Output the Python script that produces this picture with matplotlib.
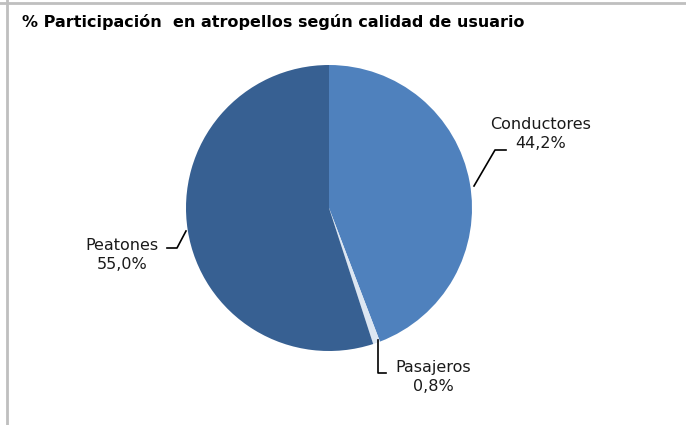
import matplotlib
matplotlib.use("Agg")
import matplotlib.pyplot as plt
from matplotlib.lines import Line2D
import numpy as np

categories = ["Conductores", "Pasajeros", "Peatones"]
values = [44.2, 0.8, 55.0]
value_labels = ["44,2%", "0,8%", "55,0%"]
colors = ["#4F81BD", "#DCE6F2", "#376092"]
title = "% Participación  en atropellos según calidad de usuario"

W, H = 686, 425
fig = plt.figure(figsize=(W / 100, H / 100), dpi=100)

def px(x, y):
    return x / W, 1 - y / H

# border (top and left)
fig.add_artist(Line2D([0, 1], [1 - 2.5 / H, 1 - 2.5 / H], color="#BFBFBF", lw=2, transform=fig.transFigure))
fig.add_artist(Line2D([6.5 / W, 6.5 / W], [0, 1], color="#BFBFBF", lw=2, transform=fig.transFigure))

cx, cy, r = 329, 208, 143
ax = fig.add_axes([(cx - r) / W, 1 - (cy + r) / H, 2 * r / W, 2 * r / H])
ax.pie(values, colors=colors, startangle=90, counterclock=False, radius=1,
       wedgeprops=dict(edgecolor="none", linewidth=0))
ax.set_xlim(-1, 1)
ax.set_ylim(-1, 1)
ax.set_aspect("equal")
ax.axis("off")

fig.text(*px(22, 22), title, fontsize=11.5, fontweight="bold", ha="left", va="center",
         family="DejaVu Sans")

# labels with leader lines
label_pos = [(541, 134), (433, 377), (122, 255)]
leaders = [
    [(474, 186), (495, 150), (506, 150)],
    [(378, 340), (378, 373), (386, 373)],
    [(186, 231), (177, 248), (167, 248)],
]
for cat, vl, (lx, ly), pts in zip(categories, value_labels, label_pos, leaders):
    fig.text(*px(lx, ly), f"{cat}\n{vl}", fontsize=11.5, ha="center", va="center",
             linespacing=1.3, color="#1a1a1a")
    xs = [p[0] / W for p in pts]
    ys = [1 - p[1] / H for p in pts]
    fig.add_artist(Line2D(xs, ys, color="black", lw=1.2, transform=fig.transFigure))

fig.savefig("out.png", dpi=100)
